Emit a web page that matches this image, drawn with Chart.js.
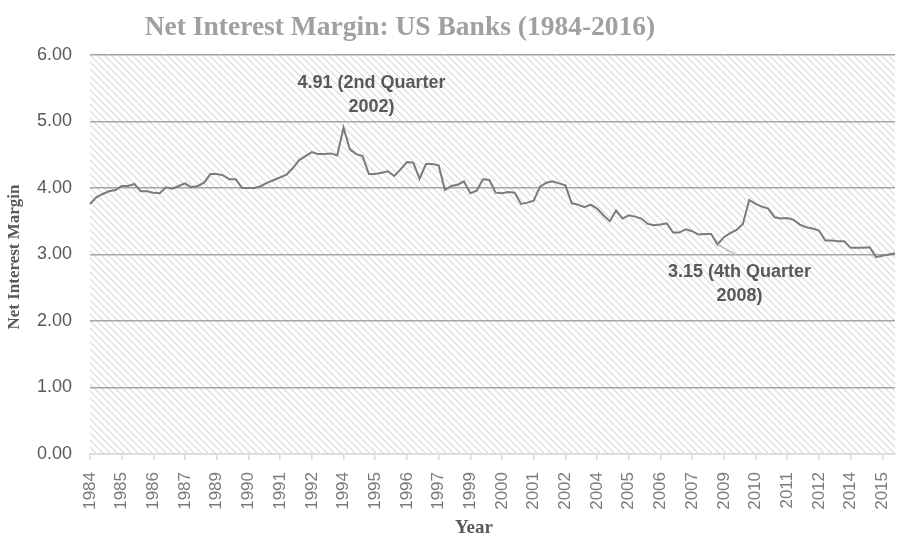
<!DOCTYPE html>
<html><head><meta charset="utf-8">
<script src="https://cdn.jsdelivr.net/npm/chart.js@4.4.0/dist/chart.umd.min.js"></script>
<style>html,body{margin:0;padding:0;background:#fff;overflow:hidden}#wrap{width:898px;height:539px;position:relative}</style>
</head><body><div id="wrap"><canvas id="c" width="898" height="539"></canvas></div>
<script>
// ---- data ----
const startYear = 1984;
const quartersPerYear = 4;
const nimValues = [
 3.76,3.86,3.91,3.95,3.97,4.03,4.03,4.06,3.95,3.95,3.93,3.92,4.01,3.99,4.03,4.07,
 4.01,4.03,4.08,4.21,4.21,4.19,4.13,4.13,4.00,4.00,4.00,4.03,4.08,4.12,4.16,4.20,
 4.30,4.42,4.48,4.54,4.51,4.51,4.52,4.49,4.91,4.58,4.51,4.48,4.21,4.21,4.23,4.25,
 4.18,4.28,4.39,4.38,4.14,4.36,4.36,4.34,3.97,4.03,4.05,4.10,3.92,3.96,4.13,4.12,
 3.93,3.92,3.94,3.93,3.76,3.78,3.81,4.02,4.08,4.10,4.07,4.04,3.77,3.75,3.71,3.75,
 3.69,3.59,3.50,3.66,3.54,3.59,3.57,3.54,3.46,3.44,3.45,3.47,3.33,3.33,3.38,3.35,
 3.30,3.31,3.31,3.15,3.26,3.32,3.37,3.46,3.82,3.76,3.72,3.69,3.56,3.54,3.55,3.52,
 3.45,3.41,3.39,3.36,3.21,3.21,3.20,3.20,3.10,3.10,3.10,3.11,2.96,2.98,3.00,3.02
];
const labels = nimValues.map((v, i) => String(startYear + Math.floor(i / quartersPerYear)));
const labelEvery = 5;
const yTicks = [0, 1, 2, 3, 4, 5, 6];
const annotationIndices = [40, 99];
const annotationLines = [["4.91 (2nd Quarter", "2002)"], ["3.15 (4th Quarter", "2008)"]];
const chartTitle = "Net Interest Margin: US Banks (1984-2016)";
const yTitle = "Net Interest Margin";
const xTitle = "Year";

// ---- hatch pattern ----
const pc = document.createElement('canvas'); pc.width = 7; pc.height = 7;
const pctx = pc.getContext('2d');
pctx.strokeStyle = '#d9d9d9'; pctx.lineWidth = 1.2;
pctx.beginPath();
[-14, -7, 0, 7].forEach(x0 => { pctx.moveTo(x0, 0); pctx.lineTo(x0 + 21, 21); });
pctx.stroke();

const hatchPlugin = {
  id: 'hatch',
  beforeDraw(chart) {
    const { ctx, chartArea: a } = chart;
    ctx.save();
    ctx.fillStyle = ctx.createPattern(pc, 'repeat');
    ctx.fillRect(a.left, a.top, a.right - a.left, a.bottom - a.top);
    ctx.restore();
  }
};

const textPlugin = {
  id: 'texts',
  afterDraw(chart) {
    const ctx = chart.ctx;
    const xs = chart.scales.x, ys = chart.scales.y;
    ctx.save();
    ctx.textAlign = 'center'; ctx.textBaseline = 'middle';
    ctx.fillStyle = '#a0a0a0';
    ctx.font = 'bold 27.5px "Liberation Serif"';
    ctx.fillText(chartTitle, 400, 28);
    ctx.fillStyle = '#595959';
    ctx.font = 'bold 19px "Liberation Serif"';
    ctx.fillText(xTitle, 474, 528);
    ctx.save();
    ctx.translate(15, 257); ctx.rotate(-Math.PI / 2);
    ctx.font = 'bold 17px "Liberation Serif"';
    ctx.fillText(yTitle, 0, 0);
    ctx.restore();
    // annotations
    ctx.font = 'bold 18px "Liberation Sans"';
    ctx.fillStyle = '#595959';
    const offs = [[28, -44], [22, 28]];
    annotationIndices.forEach((idx, k) => {
      const px = xs.getPixelForValue(idx), py = ys.getPixelForValue(nimValues[idx]);
      const cx = px + offs[k][0], cy = py + offs[k][1];
      annotationLines[k].forEach((t, j) => ctx.fillText(t, cx, cy + j * 24));
      if (k === 1) {
        ctx.strokeStyle = '#bfbfbf'; ctx.lineWidth = 1.5;
        ctx.beginPath(); ctx.moveTo(px, py); ctx.lineTo(px + 18, py + 10); ctx.stroke();
      }
    });
    ctx.restore();
  }
};

new Chart(document.getElementById('c').getContext('2d'), {
  type: 'line',
  data: { labels, datasets: [{ data: nimValues, borderColor: '#7b7b7b', borderWidth: 2, pointRadius: 0, tension: 0, fill: false }] },
  options: {
    responsive: false, animation: false, devicePixelRatio: 1,
    layout: { padding: { top: 55, right: 3, left: 0, bottom: 0 } },
    plugins: { legend: { display: false }, tooltip: { enabled: false }, title: { display: false } },
    scales: {
      x: {
        type: 'category', offset: false,
        grid: { drawOnChartArea: false, drawTicks: true, tickLength: 6,
          color: c => (c.index % labelEvery === 0 ? '#d9d9d9' : 'rgba(0,0,0,0)'), lineWidth: 1.5 },
        border: { display: true, color: '#d9d9d9', width: 1.5 },
        ticks: { autoSkip: false, minRotation: 90, maxRotation: 90, padding: 12, color: '#7a7a7a',
          font: { family: 'Liberation Sans', size: 17 },
          callback: (v, i) => (i % labelEvery === 0 ? labels[i] : '') },
        afterFit: s => { s.height = 85; s.paddingLeft = 0; s.paddingRight = 0; }
      },
      y: {
        min: yTicks[0], max: yTicks[yTicks.length - 1],
        afterBuildTicks: s => { s.ticks = yTicks.map(v => ({ value: v })); },
        ticks: { color: '#595959', padding: 18, font: { family: 'Liberation Sans', size: 18 },
          callback: v => Number(v).toFixed(2) },
        grid: { color: c => (c.tick && c.tick.value === 0 ? '#d9d9d9' : '#a6a6a6'), lineWidth: 1.5, drawTicks: false },
        border: { display: false },
        afterFit: s => { s.width = 90; }
      }
    }
  },
  plugins: [hatchPlugin, textPlugin]
});
</script>
</body></html>
